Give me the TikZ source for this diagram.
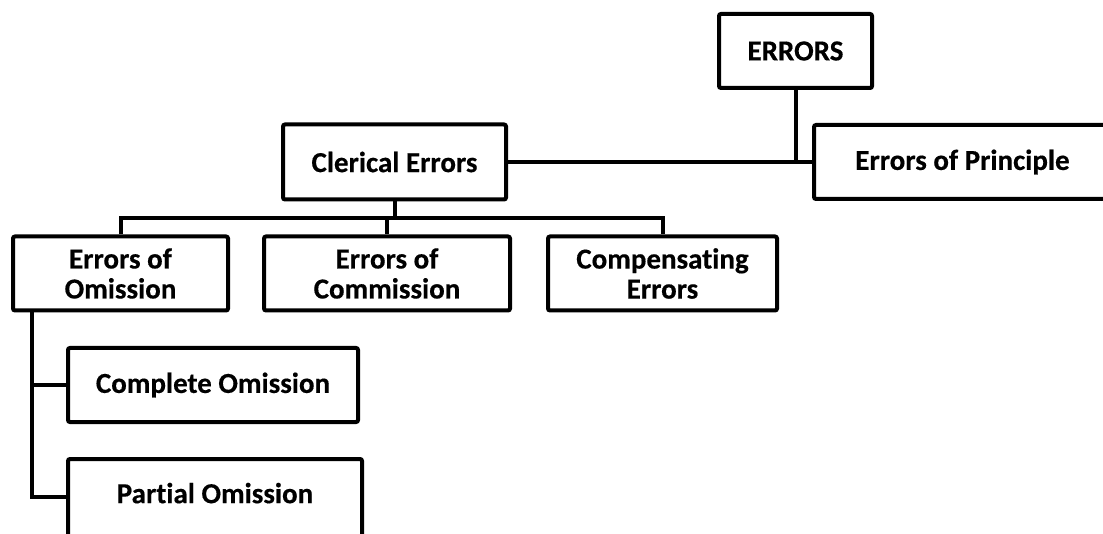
\documentclass[tikz,border=0pt]{standalone}
\usepackage{fontspec}
\setmainfont[Ligatures=NoCommon, BoldFeatures={FakeBold=0.4}]{Carlito}
\begin{document}
\begin{tikzpicture}[x=1pt,y=-1pt,
  errbox/.style={draw=black, line width=4pt, rounded corners=2pt, inner sep=0pt,
    align=center, font=\fontsize{29}{30}\selectfont\bfseries, minimum height=74pt},
  link/.style={draw=black, line width=4pt}]
\useasboundingbox (0,0) rectangle (1103,534);
\clip (0,0) rectangle (1103,534);

\node[errbox, minimum width=153pt] (errors) at (795.5,51) {ERRORS};
\node[errbox, minimum width=223pt, minimum height=75pt] (clerical) at (394.5,162) {Clerical Errors};
\node[errbox, minimum width=297pt] (principle) at (962.5,162) {Errors of Principle};

\foreach \name/\cx/\w/\txt in {omission/120.5/215/Errors of\\Omission,
  commission/387/246/Errors of\\Commission,
  compensating/662.5/229/Compensating\\Errors}{
\node[errbox, minimum width=\w pt] (\name) at (\cx,273.5) {\txt};}

\node[errbox, minimum width=290pt] (complete) at (213,385) {Complete Omission};
\node[errbox, minimum width=294pt, minimum height=84pt, text depth=16pt] (partial) at (215,501) {Partial Omission};

\draw[link] (clerical.east) -- (clerical.east -| principle.west);
\draw[link] (errors.south) -- (errors.south |- principle.west);

\draw[link] (clerical.south) -- ++(0,16);
\draw[link] (omission.north) -- ++(0,-16) -| (compensating.north);
\draw[link] (commission.north) -- ++(0,-16);

\coordinate (stem) at (32,0);
\draw[link] (omission.south -| stem) |- (stem |- 0,497) -- (stem |- 0,497 -| partial.west);
\draw[link] (stem |- complete.west) -- (complete.west);
\end{tikzpicture}
\end{document}
